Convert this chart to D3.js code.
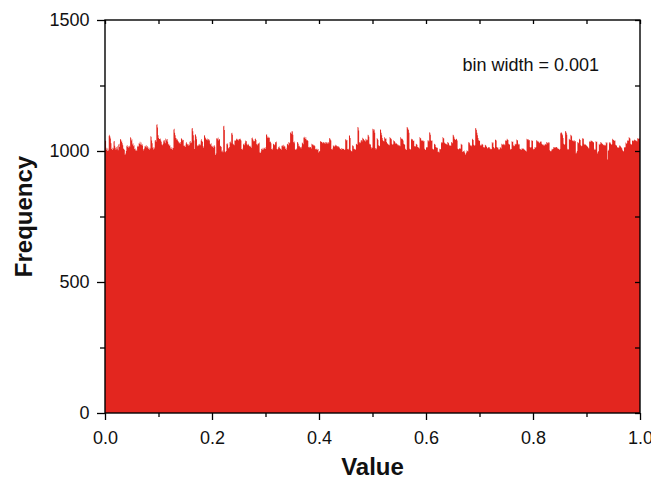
<!DOCTYPE html>
<html>
<head>
<meta charset="utf-8">
<script src="https://cdn.jsdelivr.net/npm/d3@7"></script>
<style>
  body { margin: 0; background: #fff; }
  svg { display: block; font-family: "Liberation Sans", Arial, sans-serif; }
</style>
</head>
<body>
<svg id="chart" width="651" height="479"></svg>
<script>
// Histogram of 1,000,000 uniform samples on [0, 1), 1000 bins of width 0.001.
const binWidth = 0.001;

// Counts per bin, in order, split in six runs along the value axis.
const countsRun1 = [
  1040,1038,1005,1012,1000,1010,1002,1058,1062,1055,1048,1030,1008,1012,1004,1010,
  1036,1038,1020,1012,1005,1015,1009,1018,1003,1025,1028,1015,1044,1046,1035,1040,
  1030,1022,1010,1008,1004,986,990,1000,1020,1015,1022,1018,1012,1020,1016,1053,
  1050,1040,1045,1025,1030,1018,1022,1008,1002,1010,1005,1000,1020,1015,1018,1030,
  1028,1035,1025,1032,1024,1020,1026,1008,1002,1010,1018,1020,1015,1022,1012,1019,
  1014,1008,1012,1005,1010,1056,1054,1040,1030,1012,1006,1015,1010,1040,1042,1035,
  1100,1102,1090,1060,1050,1046,1046,1048,1040,1035,1025,1022,1028,1040,1036,1042,
  1030,1048,1045,1040,1046,1035,1025,1028,1020,1022,1010,1015,1008,1012,1005,1011,
  1082,1085,1070,1060,1050,1048,1042,1045,1038,1035,1030,1032,1028,1034,1050,1046,
  1040,1044,1042,1020,1018,1022,1015,1030,1034,1028,1025,1020,1026,1022,1035,1038,
  1030,1032,1086,1088,1075,1060,1040
];
const countsRun2 = [
  1008,1062,1064,1055,1045,1022,1018,1025,1020,1025,1028,1022,1040,1046,1038,1034,
  1018,1012,1058,1061,1052,1048,1045,1042,1048,1040,1046,1044,1040,1028,1025,1030,
  1018,1015,1020,1012,1020,1022,1016,985,990,1048,1050,1045,1052,1040,1046,1044,
  1018,1020,1015,998,1002,995,1094,1096,1080,998,995,1000,1028,1025,1030,1012,
  1010,1015,1034,1036,1030,1068,1070,1062,1028,1025,1022,1040,1038,1042,1045,1048,
  1042,1046,1040,1044,1046,1048,1044,1040,1008,1005,1010,1025,1028,1022,1030,1040,
  1036,1038,1026,1022,1028,1024,1020,1018,1015,1020,1012,1050,1052,1045,1040,1036,
  1038,1046,1048,1042,1026,1028,1022,1030,1028,1032,994,992,998,1008,1010,1005,
  1012,1006,1010,1012,1008,1014,1062,1064,1055,1050,1054,1050,1052,1034,1036,1030,
  1008,1005,1010,1026,1028,1022,1025,1034,1032,1036,1008,1006,1010,1015,1018,1012,
  1008,1010,1005,1020,1022,1018,1024,1016,1020,1017
];
const countsRun3 = [
  1008,1012,1005,1026,1028,1022,1034,1030,1032,1070,1072,1066,1076,1074,1062,1034,
  1030,1036,1008,1004,1010,1006,1034,1032,1028,1018,1020,1014,1014,1010,1016,1032,
  1030,1026,1052,1054,1050,1046,1053,1044,1040,1042,1038,1015,1012,1016,1014,1015,
  1010,1028,1026,1024,1024,1020,1022,1018,1008,1005,1009,1009,1004,1008,994,998,
  1000,1036,1038,1034,1034,1030,1032,1034,1030,1032,1028,1034,1030,1034,1032,1028,
  1034,1030,1050,1048,1044,1040,1008,1005,1010,1022,1018,1020,1016,1024,1020,1022,
  1018,1019,1014,1018,1016,1012,1008,1009,1005,1011,1008,1010,1008,1009,1004,1006,
  1045,1044,1040,1042,1008,1005,1009,1060,1058,1050,1003,1000,998,1022,1020,1018,
  1008,1009,1004,1007,1028,1026,1024,1092,1090,1078,1034,1030,1032,1040,1042,1036,
  1051,1048,1046,1040,1041,1036,1047,1044,1040,1043,1062,1060,1054,1028,1024,1026,
  1015,1010,1012,1085,1084,1078,1082,1070
];
const countsRun4 = [
  1011,1006,1010,1050,1046,1042,1022,1018,1020,1083,1080,1070,1060,1050,1041,1038,
  1036,1053,1050,1046,1048,1034,1030,1028,1024,1026,1022,1053,1050,1048,1045,1028,
  1024,1026,1041,1038,1036,1032,1028,1030,1028,1026,1022,1024,1020,1022,1018,1053,
  1050,1046,1047,1044,1040,1028,1026,1024,1009,1006,1004,1092,1090,1085,1080,1070,
  1009,1005,1008,1047,1044,1046,1041,1038,1040,1019,1016,1018,1028,1026,1024,1015,
  1012,1014,1010,1053,1050,1048,1041,1038,1040,1041,1036,1038,1009,1006,1004,1015,
  1012,1014,1041,1040,1036,1072,1070,1062,1041,1038,1040,1009,1005,1008,1028,1026,
  1024,1015,1012,1014,1011,996,998,994,1009,1006,1008,1034,1030,1032,1053,1050,
  1048,1032,1030,1028,1028,1026,1024,1034,1032,1030,1024,1020,1022,1019,1034,1032,
  1030,1062,1060,1054,1047,1044,1042,1047,1045,1040,1009,1006,1008,1011,1008,1010,
  1028,1025,1024,996,1000,998,994,1002
];
const countsRun5 = [
  986,990,994,1003,1000,998,1034,1030,1032,1024,1020,1022,1018,1047,1044,1042,
  1024,1020,1022,1088,1086,1080,1070,1060,1050,1041,1038,1040,1024,1020,1022,1028,
  1026,1024,1015,1012,1014,1024,1022,1020,1015,1012,1010,1013,1015,1014,1010,1009,
  1006,1008,1034,1030,1032,1015,1010,1012,1044,1042,1040,1015,1012,1014,1009,1004,
  1008,1015,1012,1010,1028,1026,1024,1028,1024,1026,1022,1041,1038,1040,1047,1044,
  1042,1028,1024,1026,1009,1005,1008,1037,1034,1036,1022,1018,1020,1028,1025,1026,
  1044,1042,1040,1028,1024,1026,1009,1006,1008,1004,1011,1008,1010,1009,1005,1006,
  1003,1000,998,1047,1044,1045,1044,1040,1042,1015,1012,1014,1041,1038,1040,1009,
  1006,1008,1015,1012,1014,1041,1040,1036,1038,1034,1030,1032,1037,1034,1036,1028,
  1024,1026,1024,1020,1022,1028,1026,1024,1034,1032,1030,1034,1030,1032,1003,1000,
  998,1002,1009,1006,1008,1015,1012,1014
];
const countsRun6 = [
  1015,1012,1014,1015,1010,1012,1008,1009,1004,1008,1068,1072,1070,1066,1060,1050,
  1028,1024,1026,1076,1074,1070,1062,1009,1004,1008,1047,1044,1042,1062,1060,1056,
  1041,1038,1040,1036,1041,1036,1038,990,994,1000,1034,1030,1032,1047,1044,1042,
  1022,1018,1020,1050,1046,1048,1028,1024,1026,1024,1020,1022,1018,1015,1012,1010,
  1037,1034,1036,1041,1038,1036,1037,1034,1032,1009,1004,1006,1037,1034,1036,990,
  996,1000,1028,1024,1026,1034,1030,1032,1028,1026,1024,1022,1024,1020,1022,1034,
  1030,1032,968,1000,1005,1034,1030,1032,1028,1024,1026,1047,1044,1042,1041,1038,
  1040,1024,1020,1022,1015,1012,1014,1011,1022,1018,1020,1015,1012,1010,1003,1000,
  998,1015,1012,1014,1032,1028,1030,1041,1038,1040,1053,1050,1048,1028,1024,1026,
  1041,1038,1040,1037,1044,1042,1040,1041,1038,1036,1050,1046,1048,1050,1046
];
const counts = [].concat(countsRun1, countsRun2, countsRun3, countsRun4, countsRun5, countsRun6);

const xMajorTicks = [0, 0.2, 0.4, 0.6, 0.8, 1.0];
const xMinorTicks = [0.1, 0.3, 0.5, 0.7, 0.9];
const yMajorTicks = [0, 500, 1000, 1500];
const yMinorTicks = [250, 750, 1250];

const annotation = "bin width = 0.001";
const xTitle = "Value";
const yTitle = "Frequency";

const svg = d3.select("#chart");
const plot = { left: 105, right: 640, top: 20, bottom: 413 };

const x = d3.scaleLinear().domain([0, 1]).range([plot.left, plot.right]);
const y = d3.scaleLinear().domain([0, 1500]).range([plot.bottom, plot.top]);

const barColor = "#e3261f";

// Bins as [left edge, count]; the closing edge of the last bin ends the step outline.
const bins = counts.map((c, i) => [i * binWidth, c]);
bins.push([counts.length * binWidth, counts[counts.length - 1]]);

// Adjacent bars drawn as one stepped filled shape (no seams between bins)
const histArea = d3.area()
  .curve(d3.curveStepAfter)
  .x(d => x(d[0]))
  .y0(y(0))
  .y1(d => y(d[1]));

svg.append("path")
  .datum(bins)
  .attr("d", histArea)
  .attr("fill", barColor);

const fmtX = d3.format(".1f");
const fmtY = d3.format("d");

function styleAxis(g) {
  g.select(".domain").remove();
  g.selectAll("line").attr("stroke", "#000").attr("stroke-width", 1.3);
  g.selectAll("text").attr("fill", "#111").style("font-size", "18px")
    .style("font-family", '"Liberation Sans", Arial, sans-serif');
}

// Bottom axis: labelled majors, minors in between
svg.append("g").attr("transform", `translate(0,${plot.bottom})`)
  .call(d3.axisBottom(x).tickValues(xMajorTicks).tickSize(7).tickPadding(11).tickFormat(fmtX))
  .call(styleAxis);
svg.append("g").attr("transform", `translate(0,${plot.bottom})`)
  .call(d3.axisBottom(x).tickValues(xMinorTicks).tickSize(4).tickFormat(""))
  .call(styleAxis);

// Left axis
svg.append("g").attr("transform", `translate(${plot.left},0)`)
  .call(d3.axisLeft(y).tickValues(yMajorTicks).tickSize(8).tickPadding(7.5).tickFormat(fmtY))
  .call(styleAxis);
svg.append("g").attr("transform", `translate(${plot.left},0)`)
  .call(d3.axisLeft(y).tickValues(yMinorTicks).tickSize(5).tickFormat(""))
  .call(styleAxis);

// Top and right mirror axes with inward ticks
svg.append("g").attr("transform", `translate(0,${plot.top})`)
  .call(d3.axisTop(x).tickValues(xMajorTicks.concat(xMinorTicks)).tickSize(-4).tickFormat(""))
  .call(styleAxis);
svg.append("g").attr("transform", `translate(${plot.right},0)`)
  .call(d3.axisRight(y).tickValues(yMajorTicks.concat(yMinorTicks)).tickSize(-5).tickFormat(""))
  .call(styleAxis);

// Frame
svg.append("rect")
  .attr("x", plot.left).attr("y", plot.top)
  .attr("width", plot.right - plot.left).attr("height", plot.bottom - plot.top)
  .attr("fill", "none").attr("stroke", "#000").attr("stroke-width", 1.4);

// Titles
svg.append("text")
  .attr("x", (plot.left + plot.right) / 2).attr("y", 475)
  .attr("text-anchor", "middle")
  .style("font-size", "24px").style("font-weight", "bold").attr("fill", "#111")
  .text(xTitle);

svg.append("text")
  .attr("transform", `translate(32,${(plot.top + plot.bottom) / 2}) rotate(-90)`)
  .attr("text-anchor", "middle")
  .style("font-size", "24px").style("font-weight", "bold").attr("fill", "#111")
  .text(yTitle);

svg.append("text")
  .attr("x", 462.5).attr("y", 70.5)
  .style("font-size", "18px").attr("fill", "#111")
  .text(annotation);
</script>
</body>
</html>
